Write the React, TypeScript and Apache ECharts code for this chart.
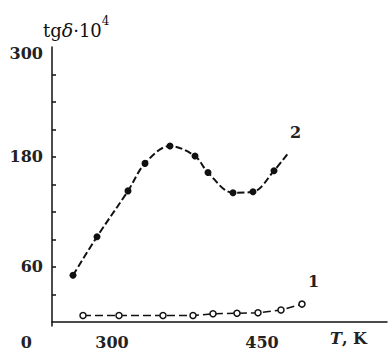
import React, { useEffect, useRef } from "react";
import * as echarts from "echarts";

const T2 = [261, 285, 316, 333, 358, 383, 396, 421, 441, 462, 476];
const V2 = [51, 93, 143, 173, 192, 181, 163, 141, 142, 165, 184];
const T1 = [271, 307, 351, 381, 401, 425, 446, 469, 490];
const V1 = [7, 7, 7, 7, 9, 9.5, 10, 13, 19.5];
const yTickMin = 30;
const yTickMax = 270;
const yTickStep = 30;
const yLabels = [0, 60, 180, 300];
const xLabels = [300, 450];
const names = ["2", "1"];

const FONT = "DejaVu Serif";

export default function App() {
  const ref = useRef<HTMLDivElement>(null);
  useEffect(() => {
    const chart = echarts.init(ref.current!, null, { renderer: "svg" });
    const d2 = T2.map((t, i) =>
      i === T2.length - 1 ? { value: [t, V2[i]], symbol: "none" } : { value: [t, V2[i]] }
    );
    const d1 = T1.map((t, i) => [t, V1[i]]);
    chart.setOption({
      animation: false,
      title: {
        text: "{r|tg}{i|δ}{r|·10}{s|4}",
        left: 38,
        top: 10,
        textStyle: {
          fontWeight: "normal",
          rich: {
            r: { fontFamily: FONT, fontWeight: "normal", fontSize: 18, color: "#111", lineHeight: 24, verticalAlign: "bottom" },
            i: { fontFamily: FONT, fontWeight: "normal", fontSize: 19, fontStyle: "italic", color: "#111", lineHeight: 24, verticalAlign: "bottom" },
            s: { fontFamily: FONT, fontWeight: "normal", fontSize: 12, color: "#111", lineHeight: 24, verticalAlign: "top" },
          },
        },
      },
      grid: [
        { left: 52, right: 5, top: 47, bottom: 33 },
        { left: 52, right: 5, top: 74.5, bottom: 64.5 },
      ],
      xAxis: [
        {
          type: "value",
          gridIndex: 0,
          min: 240,
          max: 575,
          splitLine: { show: false },
          axisLine: { lineStyle: { color: "#111", width: 1.5 } },
          axisTick: { show: false },
          axisLabel: {
            customValues: xLabels,
            margin: 8,
            fontFamily: FONT,
            fontWeight: "bold",
            fontSize: 16,
            color: "#222",
          },
          name: "{i|T}{n|, K}",
          nameLocation: "end",
          nameGap: -20,
          nameTextStyle: {
            align: "right",
            verticalAlign: "middle",
            padding: [34, 0, 0, 0],
            rich: {
              i: { fontFamily: FONT, fontSize: 16, fontWeight: "bold", fontStyle: "italic", color: "#222" },
              n: { fontFamily: FONT, fontSize: 16, fontWeight: "bold", color: "#222" },
            },
          },
        },
        {
          type: "value",
          gridIndex: 1,
          min: 240,
          max: 575,
          axisLine: { show: false },
          axisTick: { show: false },
          axisLabel: { show: false },
          splitLine: { show: false },
        },
      ],
      yAxis: [
        {
          type: "value",
          gridIndex: 0,
          min: -4.4,
          max: 300,
          splitLine: { show: false },
          axisLine: { show: true, lineStyle: { color: "#111", width: 1.5 } },
          axisTick: { show: false },
          axisLabel: {
            customValues: yLabels,
            margin: 9,
            formatter: (v: number) => {
              if (v === 0) return "{z|0}";
              if (v === 300) return "{t|300}";
              return "{n|" + v + "}";
            },
            rich: {
              n: { fontFamily: FONT, fontWeight: "bold", fontSize: 16, color: "#222" },
              t: { fontFamily: FONT, fontWeight: "bold", fontSize: 16, color: "#222", padding: [12, 0, 0, 0] },
              z: { fontFamily: FONT, fontWeight: "bold", fontSize: 16, color: "#222", padding: [42, 11, 0, 0] },
            },
          },
        },
        {
          type: "value",
          gridIndex: 1,
          min: yTickMin,
          max: yTickMax,
          interval: yTickStep,
          splitLine: { show: false },
          axisLine: { show: true, lineStyle: { color: "rgba(0,0,0,0)" } },
          axisLabel: { show: false },
          axisTick: {
            show: true,
            inside: true,
            length: 4,
            lineStyle: { color: "#111", width: 1.5 },
          },
        },
      ],
      series: [
        {
          type: "line",
          data: d2,
          smooth: 0.35,
          symbol: "circle",
          symbolSize: 7,
          itemStyle: { color: "#111" },
          lineStyle: { color: "#111", width: 2, type: [7, 3] },
          endLabel: {
            show: true,
            formatter: names[0],
            offset: [-6, -21],
            fontFamily: FONT,
            fontWeight: "bold",
            fontSize: 16,
            color: "#222",
          },
        },
        {
          type: "line",
          data: d1,
          symbol: "circle",
          symbolSize: 6,
          itemStyle: { color: "#fff", borderColor: "#111", borderWidth: 1.5 },
          lineStyle: { color: "#111", width: 1.5, type: [8, 4] },
          endLabel: {
            show: true,
            formatter: names[1],
            offset: [-2, -23],
            fontFamily: FONT,
            fontWeight: "bold",
            fontSize: 16,
            color: "#222",
          },
        },
      ],
    });
    return () => chart.dispose();
  }, []);
  return (
    <div
      ref={ref}
      style={{ position: "absolute", left: 0, top: 0, width: 392, height: 359 }}
    />
  );
}
